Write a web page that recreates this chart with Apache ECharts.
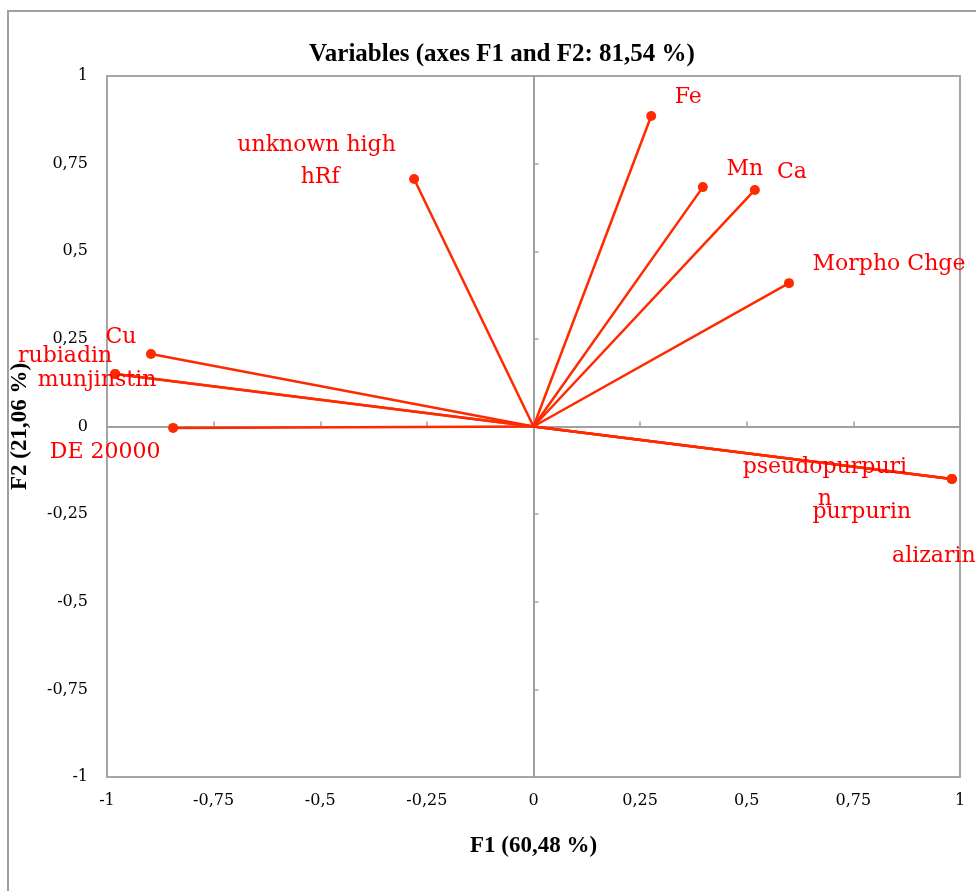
<!DOCTYPE html>
<html>
<head>
<meta charset="utf-8">
<script src="https://cdn.jsdelivr.net/npm/echarts@6/dist/echarts.min.js"></script>
<style>html,body{margin:0;padding:0;background:#fff;}#chart{width:976px;height:891px;}</style>
</head>
<body>
<div id="chart"></div>
<script>
// Variables and their loadings on F1 / F2
const variables = ['Fe','Mn','Ca','Morpho Chge','unknown high hRf','Cu','rubiadin','munjinstin','DE 20000','pseudopurpurin','purpurin','alizarin'];
const f1 = [0.276, 0.397, 0.519, 0.599, -0.280, -0.897, -0.981, -0.981, -0.845, 0.981, 0.981, 0.981];
const f2 = [0.886, 0.683, 0.675, 0.409, 0.706, 0.207, 0.150, 0.150, -0.004, -0.150, -0.150, -0.150];
const axisTicks = [-1, -0.75, -0.5, -0.25, 0, 0.25, 0.5, 0.75, 1];

// label placement (style only)
const labelStyle = {
  'Fe': {offset:[37,-19]},
  'Mn': {offset:[42,-18]},
  'Ca': {offset:[37,-18]},
  'Morpho Chge': {offset:[100,-19]},
  'unknown high hRf': {offset:[-94,-18], width:170, overflow:'break'},
  'Cu': {offset:[-30,-17]},
  'rubiadin': {offset:[-50,-18]},
  'munjinstin': {offset:[-18,6]},
  'DE 20000': {offset:[-68,24]},
  'pseudopurpurin': {offset:[-127,4], width:176, overflow:'breakAll'},
  'purpurin': {offset:[-90,33]},
  'alizarin': {offset:[-18,77]}
};

const lineColor = '#ff2a00';
const fmt = v => String(v).replace('.', ',');

const series = variables.map((name, i) => {
  const ls = labelStyle[name];
  return {
    type: 'line',
    name: name,
    xAxisIndex: 0, yAxisIndex: 0,
    data: [
      {value: [0, 0], symbol: 'none', label: {show: false}},
      {value: [f1[i], f2[i]]}
    ],
    symbol: 'circle',
    symbolSize: 10,
    showAllSymbol: true,
    lineStyle: {color: lineColor, width: 2.5},
    itemStyle: {color: lineColor},
    label: {
      show: true,
      position: 'inside',
      offset: ls.offset,
      formatter: name,
      color: '#ff0000',
      fontFamily: 'DejaVu Serif',
      fontSize: 22,
      lineHeight: 32,
      align: 'center',
      verticalAlign: 'middle',
      width: ls.width,
      overflow: ls.overflow || 'none'
    },
    emphasis: {disabled: true},
    animation: false,
    z: 3
  };
});

const chart = echarts.init(document.getElementById('chart'), null, {renderer: 'canvas'});
chart.setOption({
  backgroundColor: '#fff',
  animation: false,
  title: {
    text: 'Variables (axes F1 and F2: 81,54 %)',
    left: 497, top: 37, textAlign: 'center',
    textStyle: {fontFamily: 'Liberation Serif', fontWeight: 'bold', fontSize: 25, color: '#000'}
  },
  graphic: [{
    type: 'rect', z: -1, silent: true,
    shape: {x: 8, y: 11, width: 1100, height: 1000},
    style: {fill: 'none', stroke: '#a0a0a0', lineWidth: 2}
  }],
  grid: {left: 107, right: 16, top: 76, bottom: 114, show: true, borderColor: '#a6a6a6', borderWidth: 2, backgroundColor: 'transparent'},
  xAxis: [{
    type: 'value', min: axisTicks[0], max: axisTicks[axisTicks.length-1], interval: 0.25,
    position: 'bottom',
    axisLine: {show: false, onZero: false}, axisTick: {show: false}, splitLine: {show: false},
    axisLabel: {formatter: fmt, fontFamily: 'DejaVu Serif', fontSize: 16, color: '#000', margin: 16},
    name: 'F1 (60,48 %)', nameLocation: 'middle', nameGap: 58,
    nameTextStyle: {fontFamily: 'Liberation Serif', fontWeight: 'bold', fontSize: 23, color: '#000'}
  }, {
    type: 'value', min: -1, max: 1, interval: 0.25,
    position: 'top',
    axisLine: {show: true, onZero: true, lineStyle: {color: '#a0a0a0', width: 2}},
    axisTick: {show: true, length: 5, lineStyle: {color: '#a0a0a0', width: 1.5}},
    axisLabel: {show: false}, splitLine: {show: false}
  }],
  yAxis: [{
    type: 'value', min: -1, max: 1, interval: 0.25,
    position: 'left',
    axisLine: {show: false, onZero: false}, axisTick: {show: false}, splitLine: {show: false},
    axisLabel: {formatter: fmt, fontFamily: 'DejaVu Serif', fontSize: 16, color: '#000', margin: 19},
    name: 'F2 (21,06 %)', nameLocation: 'middle', nameGap: 75, nameRotate: 90,
    nameTextStyle: {fontFamily: 'Liberation Serif', fontWeight: 'bold', fontSize: 23, color: '#000'}
  }, {
    type: 'value', min: -1, max: 1, interval: 0.25,
    position: 'right',
    axisLine: {show: true, onZero: true, lineStyle: {color: '#a0a0a0', width: 2}},
    axisTick: {show: true, length: 5, lineStyle: {color: '#a0a0a0', width: 1.5}},
    axisLabel: {show: false}, splitLine: {show: false}
  }],
  series: series
});
</script>
</body>
</html>
